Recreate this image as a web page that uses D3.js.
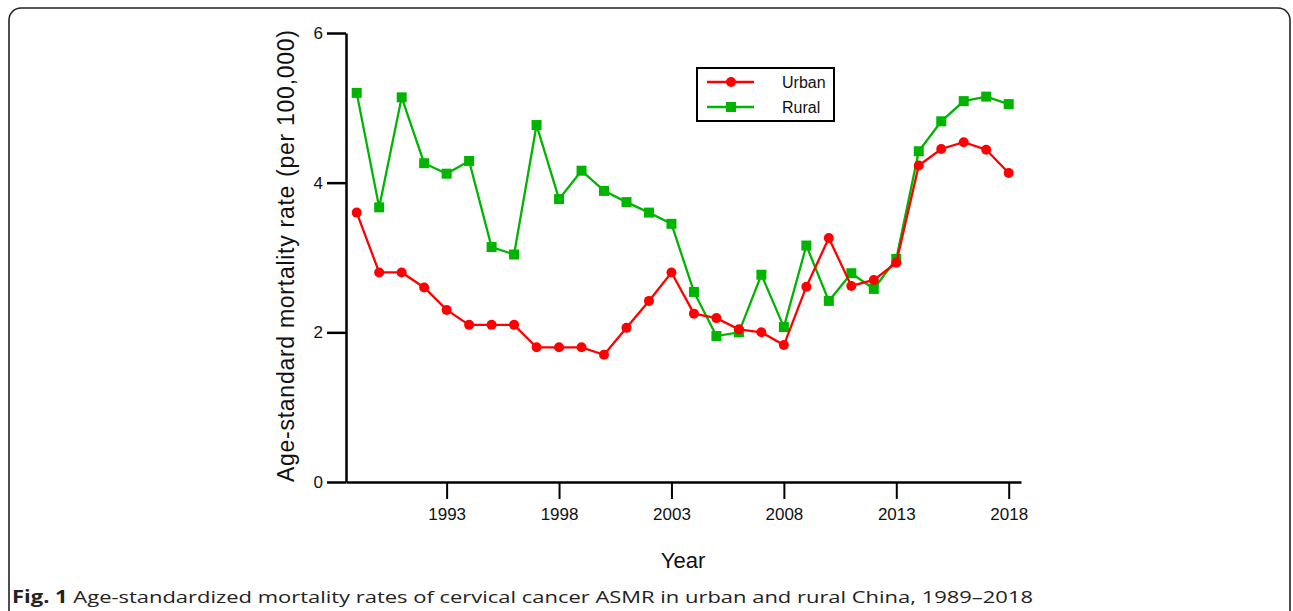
<!DOCTYPE html>
<html>
<head>
<meta charset="utf-8">
<script src="https://cdn.jsdelivr.net/npm/d3@7"></script>
<style>
  html, body { margin: 0; padding: 0; background: #fff; }
  svg { display: block; }
</style>
</head>
<body>
<svg id="chart" width="1293" height="611"></svg>
<script>
const years = [1989,1990,1991,1992,1993,1994,1995,1996,1997,1998,1999,2000,2001,2002,2003,2004,2005,2006,2007,2008,2009,2010,2011,2012,2013,2014,2015,2016,2017,2018];
const urban = [3.60,2.80,2.80,2.60,2.30,2.10,2.10,2.10,1.80,1.80,1.80,1.70,2.06,2.42,2.80,2.25,2.19,2.04,2.00,1.83,2.61,3.26,2.62,2.70,2.93,4.23,4.45,4.54,4.44,4.13];
const rural = [5.20,3.67,5.14,4.26,4.12,4.29,3.14,3.04,4.77,3.78,4.16,3.89,3.74,3.60,3.45,2.54,1.95,2.00,2.77,2.07,3.16,2.42,2.79,2.58,2.98,4.42,4.82,5.09,5.15,5.05];
const xTicks = [1993,1998,2003,2008,2013,2018];
const yTicks = [0,2,4,6];
const seriesNames = ["Urban","Rural"];
const seriesColors = ["#ff0000","#00b400"];
const yTitleMain = "Age-standard mortality rate";
const yTitleUnit = "(per 100,000)";
const xTitle = "Year";
const captionBold = "Fig. 1";
const captionText = " Age-standardized mortality rates of cervical cancer ASMR in urban and rural China, 1989–2018";

const svg = d3.select("#chart");
const FONT = "'Liberation Sans', Arial, sans-serif";

// outer frame
svg.append("rect")
  .attr("x", 9).attr("y", 8).attr("width", 1281).attr("height", 660)
  .attr("rx", 12).attr("ry", 12)
  .attr("fill", "none").attr("stroke", "#222").attr("stroke-width", 1.6);

const x = d3.scaleLinear().domain([1988.524, 2018.547]).range([346, 1021]);
const y = d3.scaleLinear().domain([0, 6]).range([482, 33]);

// x axis
const gx = svg.append("g").attr("transform", `translate(0,${y(0)})`)
  .call(d3.axisBottom(x).tickValues(xTicks).tickFormat(d3.format("d"))
    .tickSize(17).tickSizeOuter(0).tickPadding(9));
gx.select(".domain").attr("stroke", "#000").attr("stroke-width", 2.5);
gx.selectAll(".tick line").attr("stroke", "#000").attr("stroke-width", 2);
gx.selectAll(".tick text").attr("font-family", FONT).attr("font-size", 17).attr("fill", "#111");

// y axis
const gy = svg.append("g").attr("transform", `translate(${x.range()[0]},0)`)
  .call(d3.axisLeft(y).tickValues(yTicks).tickFormat(d3.format("d"))
    .tickSize(19).tickSizeOuter(0).tickPadding(4));
gy.select(".domain").attr("stroke", "#000").attr("stroke-width", 2.5);
gy.selectAll(".tick line").attr("stroke", "#000").attr("stroke-width", 2.5);
gy.selectAll(".tick text").attr("font-family", FONT).attr("font-size", 17).attr("fill", "#111");

// titles
const yt = svg.append("text")
  .attr("transform", `translate(294,${y(0)}) rotate(-90)`)
  .attr("font-family", FONT).attr("font-size", 23).attr("fill", "#111");
yt.append("tspan").text(yTitleMain);
yt.append("tspan").attr("dx", 8).text(yTitleUnit);
yt.attr("textLength", 452).attr("lengthAdjust", "spacing");
svg.append("text")
  .attr("x", 683).attr("y", 568).attr("text-anchor", "middle")
  .attr("font-family", FONT).attr("font-size", 22).attr("fill", "#111")
  .text(xTitle);

// series
const data = [urban, rural];
const line = d3.line().x((d, i) => x(years[i])).y(d => y(d));
const order = [1, 0]; // draw rural first, urban on top
order.forEach(si => {
  const g = svg.append("g");
  g.append("path").datum(data[si])
    .attr("d", line).attr("fill", "none")
    .attr("stroke", seriesColors[si]).attr("stroke-width", 2.3);
  if (si === 0) {
    g.selectAll("circle").data(data[si]).enter().append("circle")
      .attr("cx", (d, i) => x(years[i])).attr("cy", d => y(d)).attr("r", 5)
      .attr("fill", seriesColors[si]);
  } else {
    g.selectAll("rect").data(data[si]).enter().append("rect")
      .attr("x", (d, i) => x(years[i]) - 5).attr("y", d => y(d) - 5)
      .attr("width", 10).attr("height", 10)
      .attr("fill", seriesColors[si]);
  }
});

// legend
const lg = svg.append("g");
lg.append("rect").attr("x", 697).attr("y", 68).attr("width", 137).attr("height", 53)
  .attr("fill", "#fff").attr("stroke", "#000").attr("stroke-width", 2);
seriesNames.forEach((name, i) => {
  const cy = 82 + i * 25;
  lg.append("line").attr("x1", 707).attr("x2", 754).attr("y1", cy).attr("y2", cy)
    .attr("stroke", seriesColors[i]).attr("stroke-width", 2.3);
  if (i === 0) {
    lg.append("circle").attr("cx", 731).attr("cy", cy).attr("r", 5).attr("fill", seriesColors[i]);
  } else {
    lg.append("rect").attr("x", 726).attr("y", cy - 5).attr("width", 10).attr("height", 10).attr("fill", seriesColors[i]);
  }
  lg.append("text").attr("x", 782).attr("y", cy + 6)
    .attr("font-family", FONT).attr("font-size", 16).attr("fill", "#111").text(name);
});

// caption
const cap = svg.append("text").attr("x", 12).attr("y", 603)
  .attr("font-family", "'Open Sans', 'Noto Sans', sans-serif").attr("font-size", 17).attr("fill", "#222");
cap.append("tspan").attr("font-weight", "bold").text(captionBold);
cap.append("tspan").text(captionText);
const w = cap.node().getComputedTextLength();
if (Math.abs(w - 1021) > 4) cap.attr("textLength", 1021).attr("lengthAdjust", "spacingAndGlyphs");
</script>
</body>
</html>
